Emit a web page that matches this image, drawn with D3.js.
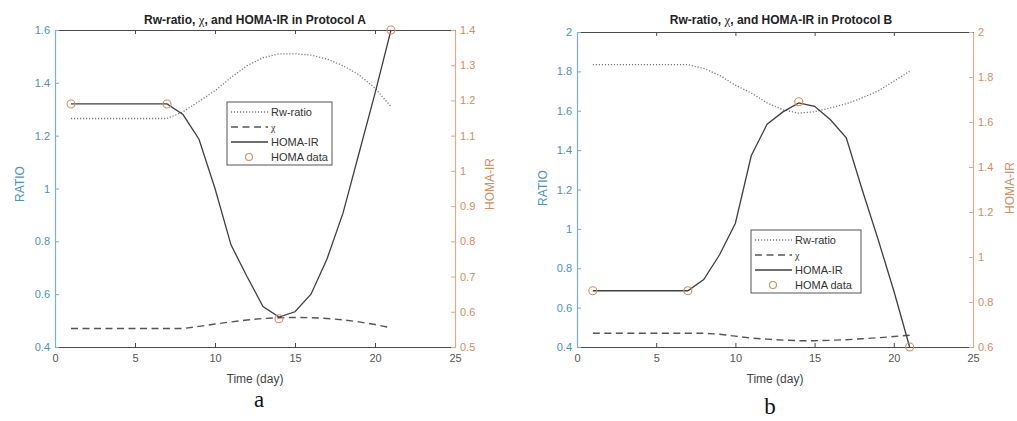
<!DOCTYPE html>
<html><head><meta charset="utf-8">
<script src="https://cdn.jsdelivr.net/npm/d3@7"></script>
<style>
body{margin:0;background:#fff}
svg{display:block}
text{font-family:"Liberation Sans",Arial,sans-serif}
</style>
</head><body>
<svg id="c" width="1017" height="421"></svg>
<script>
// ---------------- DATA ----------------
const days = [1,2,3,4,5,6,7,8,9,10,11,12,13,14,15,16,17,18,19,20,21];

const rwA   = [1.265,1.265,1.265,1.265,1.265,1.265,1.265,1.29,1.33,1.37,1.42,1.465,1.495,1.51,1.51,1.505,1.49,1.465,1.43,1.38,1.31];
const chiA  = [0.47,0.47,0.47,0.47,0.47,0.47,0.47,0.47,0.478,0.487,0.495,0.502,0.508,0.511,0.512,0.511,0.508,0.503,0.495,0.485,0.473];
const homaA = [1.19,1.19,1.19,1.19,1.19,1.19,1.19,1.16,1.09,0.95,0.79,0.70,0.615,0.585,0.60,0.65,0.75,0.88,1.05,1.22,1.40];
const homaDataDaysA = [1,7,14,21];
const homaDataA     = [1.19,1.19,0.58,1.40];

const rwB   = [1.834,1.834,1.834,1.834,1.834,1.834,1.834,1.815,1.78,1.73,1.69,1.64,1.605,1.588,1.595,1.615,1.635,1.665,1.70,1.75,1.80];
const chiB  = [0.47,0.47,0.47,0.47,0.47,0.47,0.47,0.47,0.465,0.455,0.445,0.44,0.435,0.432,0.432,0.434,0.437,0.442,0.447,0.453,0.46];
const homaB = [0.85,0.85,0.85,0.85,0.85,0.85,0.85,0.90,1.01,1.15,1.45,1.59,1.645,1.685,1.67,1.61,1.53,1.30,1.08,0.85,0.60];
const homaDataDaysB = [1,7,14,21];
const homaDataB     = [0.85,0.85,1.69,0.60];

const xTicks      = [0,5,10,15,20,25];
const ratioTicksA = [0.4,0.6,0.8,1,1.2,1.4,1.6];
const homaTicksA  = [0.5,0.6,0.7,0.8,0.9,1,1.1,1.2,1.3,1.4];
const ratioTicksB = [0.4,0.6,0.8,1,1.2,1.4,1.6,1.8,2];
const homaTicksB  = [0.6,0.8,1,1.2,1.4,1.6,1.8,2];

const legendLabels = ["Rw-ratio","χ","HOMA-IR","HOMA data"];
const titlesPrefix = "Rw-ratio, ";
const titlesSuffix = [", and HOMA-IR in Protocol A", ", and HOMA-IR in Protocol B"];
const captions = ["a","b"];

// ---------------- STYLE / LAYOUT ----------------
const BLUE_T = "#4a90c2", BLUE_L = "#7aaed3";
const ORG_T = "#d48d5e", ORG_L = "#dcae88";
const DARK = "#4a4a4a";

const svg = d3.select("#c");

function fmt(v){ return String(+v.toFixed(2)); }

function panel(cfg){
  const g = svg.append("g");
  const x = d3.scaleLinear().domain([0,25]).range([cfg.x0,cfg.x1]);
  const yL = d3.scaleLinear().domain(cfg.ratioDom).range([cfg.y1,cfg.y0]);
  const yR = d3.scaleLinear().domain(cfg.homaDom).range([cfg.y1,cfg.y0]);

  const top = g.append("g").attr("transform",`translate(0,${cfg.y0})`)
    .call(d3.axisTop(x).tickValues(xTicks).tickSizeInner(-4).tickSizeOuter(0).tickFormat(""));
  top.select(".domain").attr("stroke",DARK);
  top.selectAll(".tick line").attr("stroke",DARK);

  const bot = g.append("g").attr("transform",`translate(0,${cfg.y1})`)
    .call(d3.axisBottom(x).tickValues(xTicks).tickSizeInner(-4).tickSizeOuter(0).tickPadding(7).tickFormat(fmt));
  bot.select(".domain").attr("stroke",DARK);
  bot.selectAll(".tick line").attr("stroke",DARK);
  bot.selectAll("text").attr("fill","#555").style("font-size","11px").style("font-family","'Liberation Sans',Arial,sans-serif");

  const la = g.append("g").attr("transform",`translate(${cfg.x0},0)`)
    .call(d3.axisLeft(yL).tickValues(cfg.ratioTicks).tickSizeInner(-4).tickSizeOuter(0).tickPadding(5).tickFormat(fmt));
  la.select(".domain").attr("stroke",BLUE_L).attr("stroke-width",1.2);
  la.selectAll(".tick line").attr("stroke",BLUE_L);
  la.selectAll("text").attr("fill",BLUE_T).style("font-size","11px").style("font-family","'Liberation Sans',Arial,sans-serif");

  const ra = g.append("g").attr("transform",`translate(${cfg.x1},0)`)
    .call(d3.axisRight(yR).tickValues(cfg.homaTicks).tickSizeInner(-4).tickSizeOuter(0).tickPadding(5).tickFormat(fmt));
  ra.select(".domain").attr("stroke",ORG_L).attr("stroke-width",1.2);
  ra.selectAll(".tick line").attr("stroke",ORG_L);
  ra.selectAll("text").attr("fill",ORG_T).style("font-size","11px").style("font-family","'Liberation Sans',Arial,sans-serif");

  const lineL = d3.line().x((d,i)=>x(days[i])).y(d=>yL(d));
  const lineR = d3.line().x((d,i)=>x(days[i])).y(d=>yR(d));
  g.append("path").datum(cfg.rw).attr("d",lineL).attr("fill","none")
    .attr("stroke","#7a7a7a").attr("stroke-width",1.3).attr("stroke-dasharray","1.2,1.8");
  g.append("path").datum(cfg.chi).attr("d",lineL).attr("fill","none")
    .attr("stroke","#555").attr("stroke-width",1.4).attr("stroke-dasharray","7,4.5");
  g.append("path").datum(cfg.homa).attr("d",lineR).attr("fill","none")
    .attr("stroke","#3f3f3f").attr("stroke-width",1.3);
  g.selectAll("circle.hd").data(cfg.homaData).join("circle").attr("class","hd")
    .attr("cx",(d,i)=>x(cfg.homaDataDays[i])).attr("cy",d=>yR(d)).attr("r",4)
    .attr("fill","none").attr("stroke",ORG_T).attr("stroke-width",1.1);

  const t = g.append("text").attr("x",cfg.titleX).attr("y",cfg.titleY).attr("text-anchor","middle")
    .style("font-size","12px").style("font-weight","bold").attr("fill","#222");
  t.append("tspan").text(titlesPrefix);
  t.append("tspan").text("χ").style("font-family","'Liberation Serif','DejaVu Serif',serif").style("font-weight","normal").style("font-size","13px");
  t.append("tspan").text(cfg.titleSuffix);

  g.append("text").attr("x",(cfg.x0+cfg.x1)/2).attr("y",cfg.xLabelY).attr("text-anchor","middle")
    .style("font-size","12px").attr("fill","#444").text("Time (day)");
  g.append("text").attr("transform",`translate(${cfg.lLabelX},${cfg.lLabelY}) rotate(-90)`).attr("text-anchor","middle")
    .style("font-size","12px").attr("fill",BLUE_T).text("RATIO");
  g.append("text").attr("transform",`translate(${cfg.rLabelX},${cfg.rLabelY}) rotate(-90)`).attr("text-anchor","middle")
    .style("font-size","12px").attr("fill",ORG_T).text("HOMA-IR");

  const lg = g.append("g");
  lg.append("rect").attr("x",cfg.lgX).attr("y",cfg.lgY).attr("width",cfg.lgW).attr("height",cfg.lgH)
    .attr("fill","#fff").attr("stroke","#555").attr("stroke-width",1);
  const styles = [
    {stroke:"#7a7a7a",dash:"1.2,1.8",w:1.3},
    {stroke:"#555",dash:"7,4.5",w:1.4},
    {stroke:"#3f3f3f",dash:null,w:1.3}
  ];
  legendLabels.forEach((lab,i)=>{
    const yy = cfg.lgY + 10 + i*cfg.lgStep;
    if(i<3){
      lg.append("line").attr("x1",cfg.lgX+4).attr("x2",cfg.lgX+41).attr("y1",yy).attr("y2",yy)
        .attr("stroke",styles[i].stroke).attr("stroke-width",styles[i].w).attr("stroke-dasharray",styles[i].dash);
    } else {
      lg.append("circle").attr("cx",cfg.lgX+22).attr("cy",yy).attr("r",3.5)
        .attr("fill","none").attr("stroke",ORG_T).attr("stroke-width",1.1);
    }
    const tx = lg.append("text").attr("x",cfg.lgX+44).attr("y",yy+4).style("font-size","11px").attr("fill","#333").text(lab);
    if(i===1) tx.style("font-family","'Liberation Serif','DejaVu Serif',serif").style("font-size","10px");
  });

  g.append("text").attr("x",cfg.capX).attr("y",cfg.capY).attr("text-anchor","middle")
    .style("font-family","'Liberation Serif','DejaVu Serif',serif").style("font-size","23px").attr("fill","#111").text(cfg.caption);
}

panel({
  x0:55,x1:455,y0:30,y1:347,
  ratioDom:[0.4,1.6],homaDom:[0.5,1.4],
  ratioTicks:ratioTicksA,homaTicks:homaTicksA,
  rw:rwA,chi:chiA,homa:homaA,homaData:homaDataA,homaDataDays:homaDataDaysA,
  titleX:255,titleY:24,titleSuffix:titlesSuffix[0],
  xLabelY:383,lLabelX:24,lLabelY:184,rLabelX:494,rLabelY:184,
  lgX:227,lgY:102,lgW:105,lgH:63,lgStep:15,
  capX:259,capY:407,caption:captions[0]
});
panel({
  x0:577,x1:973,y0:32,y1:347,
  ratioDom:[0.4,2],homaDom:[0.6,2],
  ratioTicks:ratioTicksB,homaTicks:homaTicksB,
  rw:rwB,chi:chiB,homa:homaB,homaData:homaDataB,homaDataDays:homaDataDaysB,
  titleX:781,titleY:24,titleSuffix:titlesSuffix[1],
  xLabelY:383,lLabelX:547,lLabelY:188,rLabelX:1014,rLabelY:188,
  lgX:751,lgY:230,lgW:110,lgH:63,lgStep:15,
  capX:770,capY:414,caption:captions[1]
});
</script>
</body></html>
